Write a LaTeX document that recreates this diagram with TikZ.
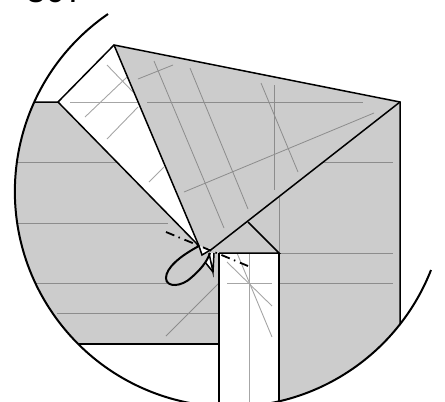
\documentclass[tikz,border=0pt]{standalone}
\usepackage{fontspec}
\setmainfont{Liberation Sans}
\tikzset{
  edge/.style={draw=black,line width=1.5pt,line join=miter},
  fold/.style={draw=black!45,line width=1pt},
  thin fold/.style={draw=black!45,line width=0.8pt},
  foldw/.style={draw=black!35,line width=0.9pt},
  rim/.style={draw=black,line width=2pt},
  mv/.style={draw=black,line width=1.8pt,dash pattern=on 9pt off 4.5pt on 1.5pt off 5pt}
}
\begin{document}
\begin{tikzpicture}[x=1pt,y=-1pt]
\useasboundingbox (0,0) rectangle (445,402);
\clip (0,0) rectangle (445,402);
\coordinate (C) at (230.3,191.2);
\coordinate (A) at (114,45);
\coordinate (B) at (400,102);
\coordinate (D) at (58,102);
\coordinate (E) at (34,102);
\coordinate (F) at (199,246);
\coordinate (N) at (202,255);
\coordinate (M) at (212,249);
\coordinate (G) at (248,222);
\coordinate (H) at (279,253);
\coordinate (I) at (219,253);
\coordinate (J) at (78,344);
\coordinate (K) at (219,344);
\coordinate (L) at (400,325);
% grey paper, cut by the circle
\begin{scope}
\clip (C) circle[x radius=215.5pt,y radius=215.5pt];
\fill[black!20] (0,102) -- (D) -- (F) -- (N) -- (M) -- (I) -- (K) -- (0,344) -- cycle;
\fill[black!20] (A) -- (B) -- (400,410) -- (279,410) -- (H) -- (I) -- (M) -- (F) -- cycle;
\end{scope}
\fill[white] (209,253) -- (214,253) -- (213,272) -- (205,262) -- cycle;
% folds on grey
\draw[fold] (147,102) -- (363,102);
\draw[fold] (17,162) -- (117,162);
\draw[fold] (323,162) -- (393,162);
\draw[fold] (17,223) -- (168,223);
\draw[fold] (H) -- (393,253);
\draw[fold] (36,283) -- (167,283);
\draw[fold] (279,283) -- (393,283);
\draw[fold] (57,313) -- (219,313);
\draw[fold] (274,85) -- (274,190);
\draw[fold] (279,196) -- (H);
\draw[thin fold] (154,61) -- (224,228);
\draw[thin fold] (190,68) -- (248,209);
\draw[thin fold] (261,83) -- (298,172);
\draw[thin fold] (138,79) -- (173,65);
\draw[thin fold] (184,192) -- (374,113);
\draw[thin fold] (166,336) -- (219,283);
% folds on white
\draw[foldw] (70,102) -- (138,102);
\draw[foldw] (85,117) -- (127,77);
\draw[foldw] (107,65) -- (133,92);
\draw[foldw] (107,139) -- (138,107);
\draw[foldw] (149,182) -- (164,167);
\draw[foldw] (227,262) -- (272,306);
\draw[foldw] (237,253) -- (272,337);
\draw[foldw] (227,283) -- (272,283);
\draw[foldw] (249,254) -- (249,402);
% outlines
\draw[edge] (E) -- (D) -- (A) -- (B) -- (L);
\draw[edge] (A) -- (F) -- (N) -- (M) -- (B);
\draw[edge] (D) -- (F);
\draw[edge] (G) -- (H) -- (I);
\draw[edge] (H) -- (279,402);
\draw[edge] (I) -- (219,402);
\draw[edge] (J) -- (K);
\draw[edge] (209,253) -- (213,272) -- (214,253);
\draw[edge] (205,262) -- (213,272);
% petal
\draw[edge,line width=2pt] (F) .. controls (180,256) and (166,268) .. (166,278)
  .. controls (166,288) and (182,287) .. (192,277) .. controls (200,270) and (207,262) .. (210,253);
% mountain fold
\draw[mv] (166,232) -- (248,266);
% big arc
\draw[rim] (108,14) arc[start angle=124.6,end angle=338.6,x radius=215.5pt,y radius=215.5pt];
% cut-off heading
\node[anchor=base west,inner sep=0pt,font=\fontsize{35}{35}\selectfont] (T) at (26,2.5) {307};
\end{tikzpicture}
\end{document}
